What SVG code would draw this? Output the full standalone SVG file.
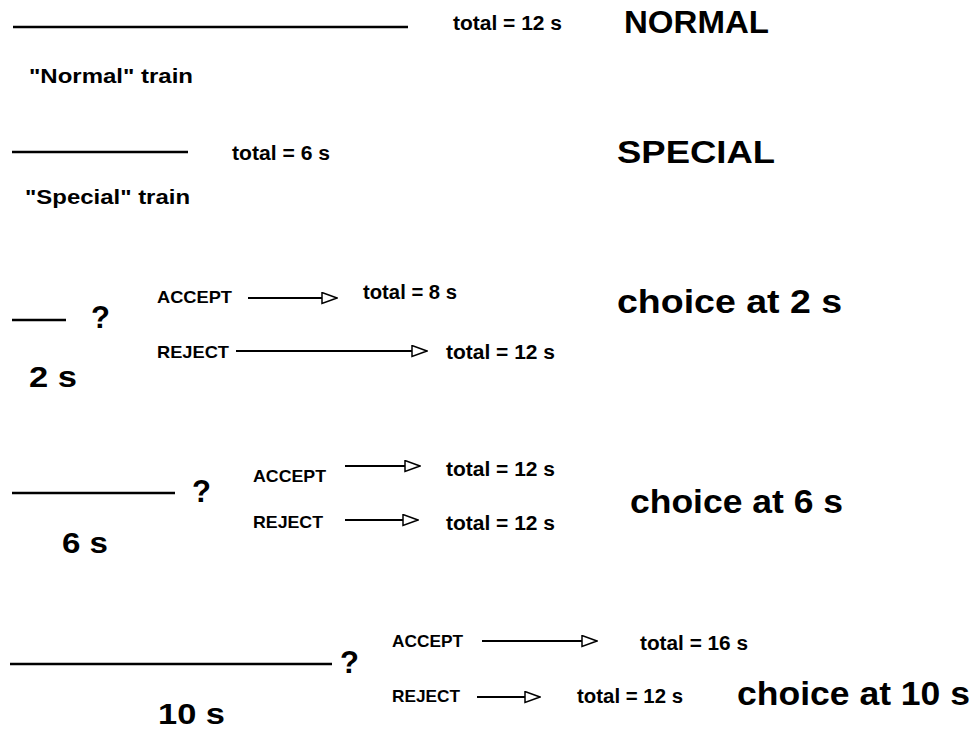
<svg xmlns="http://www.w3.org/2000/svg" width="975" height="730" viewBox="0 0 975 730">
  <style>
    text { font-family: "Liberation Sans", Arial, sans-serif; font-weight: bold; fill: #000; }
    .tot { font-size: 20px; }
    .title { font-size: 31px; }
    .cap { font-size: 20px; }
    .opt { font-size: 17px; }
    .q { font-size: 31px; }
    .dur { font-size: 30px; }
    .choice { font-size: 33px; }
    .train { stroke: #000; stroke-width: 2.5; fill: none; }
    .arrow { stroke: #000; stroke-width: 2; fill: none; marker-end: url(#open); }
  </style>
  <defs>
    <marker id="open" viewBox="0 0 17 13" refX="16" refY="6.5" markerWidth="17" markerHeight="13" markerUnits="userSpaceOnUse" orient="auto">
      <path d="M1,1 L16,6.5 L1,12 Z" fill="#fff" stroke="#000" stroke-width="1.5"/>
    </marker>
  </defs>
  <rect width="975" height="730" fill="#fff"/>

  <!-- normal train -->
  <g id="normal">
    <line class="train" x1="13" y1="27" x2="408" y2="27"/>
    <text class="tot" x="453" y="30" textLength="109" lengthAdjust="spacingAndGlyphs">total = 12 s</text>
    <text class="title" x="624" y="33" textLength="145" lengthAdjust="spacingAndGlyphs">NORMAL</text>
    <text class="cap" x="29" y="83" textLength="164" lengthAdjust="spacingAndGlyphs">"Normal" train</text>
  </g>

  <!-- special train -->
  <g id="special">
    <line class="train" x1="12" y1="152" x2="188" y2="152"/>
    <text class="tot" x="232" y="160" textLength="98" lengthAdjust="spacingAndGlyphs">total = 6 s</text>
    <text class="title" x="617" y="163" textLength="158" lengthAdjust="spacingAndGlyphs">SPECIAL</text>
    <text class="cap" x="25" y="204" textLength="165" lengthAdjust="spacingAndGlyphs">"Special" train</text>
  </g>

  <!-- choice at 2 s -->
  <g id="choice2">
    <line class="train" x1="12" y1="320" x2="66" y2="320"/>
    <text class="q" x="91" y="328">?</text>
    <text class="dur" x="29" y="387" textLength="48" lengthAdjust="spacingAndGlyphs">2 s</text>
    <text class="opt" x="157" y="303" textLength="75" lengthAdjust="spacingAndGlyphs">ACCEPT</text>
    <text class="tot" x="363" y="299" textLength="94" lengthAdjust="spacingAndGlyphs">total = 8 s</text>
    <text class="opt" x="157" y="358" textLength="72" lengthAdjust="spacingAndGlyphs">REJECT</text>
    <text class="tot" x="446" y="359" textLength="109" lengthAdjust="spacingAndGlyphs">total = 12 s</text>
    <text class="choice" x="617" y="313" textLength="225" lengthAdjust="spacingAndGlyphs">choice at 2 s</text>
  </g>

  <!-- choice at 6 s -->
  <g id="choice6">
    <line class="train" x1="12" y1="493" x2="175" y2="493"/>
    <text class="q" x="192" y="502">?</text>
    <text class="dur" x="62" y="553" textLength="46" lengthAdjust="spacingAndGlyphs">6 s</text>
    <text class="opt" x="253" y="482" textLength="73" lengthAdjust="spacingAndGlyphs">ACCEPT</text>
    <text class="tot" x="446" y="476" textLength="109" lengthAdjust="spacingAndGlyphs">total = 12 s</text>
    <text class="opt" x="253" y="528" textLength="70" lengthAdjust="spacingAndGlyphs">REJECT</text>
    <text class="tot" x="446" y="530" textLength="109" lengthAdjust="spacingAndGlyphs">total = 12 s</text>
    <text class="choice" x="630" y="513" textLength="213" lengthAdjust="spacingAndGlyphs">choice at 6 s</text>
  </g>

  <!-- choice at 10 s -->
  <g id="choice10">
    <line class="train" x1="10" y1="664" x2="332" y2="664"/>
    <text class="q" x="340" y="673">?</text>
    <text class="dur" x="158" y="724" textLength="67" lengthAdjust="spacingAndGlyphs">10 s</text>
    <text class="opt" x="392" y="647" textLength="71" lengthAdjust="spacingAndGlyphs">ACCEPT</text>
    <text class="tot" x="640" y="650" textLength="108" lengthAdjust="spacingAndGlyphs">total = 16 s</text>
    <text class="opt" x="392" y="702" textLength="68" lengthAdjust="spacingAndGlyphs">REJECT</text>
    <text class="tot" x="577" y="703" textLength="106" lengthAdjust="spacingAndGlyphs">total = 12 s</text>
    <text class="choice" x="737" y="705" textLength="233" lengthAdjust="spacingAndGlyphs">choice at 10 s</text>
  </g>

  <!-- decision arrows -->
  <g id="connectors">
    <line class="arrow" x1="248" y1="298" x2="337" y2="298"/>
    <line class="arrow" x1="236" y1="351" x2="427" y2="351"/>
    <line class="arrow" x1="345" y1="466" x2="420" y2="466"/>
    <line class="arrow" x1="345" y1="520" x2="418" y2="520"/>
    <line class="arrow" x1="482" y1="641" x2="597" y2="641"/>
    <line class="arrow" x1="477" y1="697" x2="540" y2="697"/>
  </g>
</svg>
